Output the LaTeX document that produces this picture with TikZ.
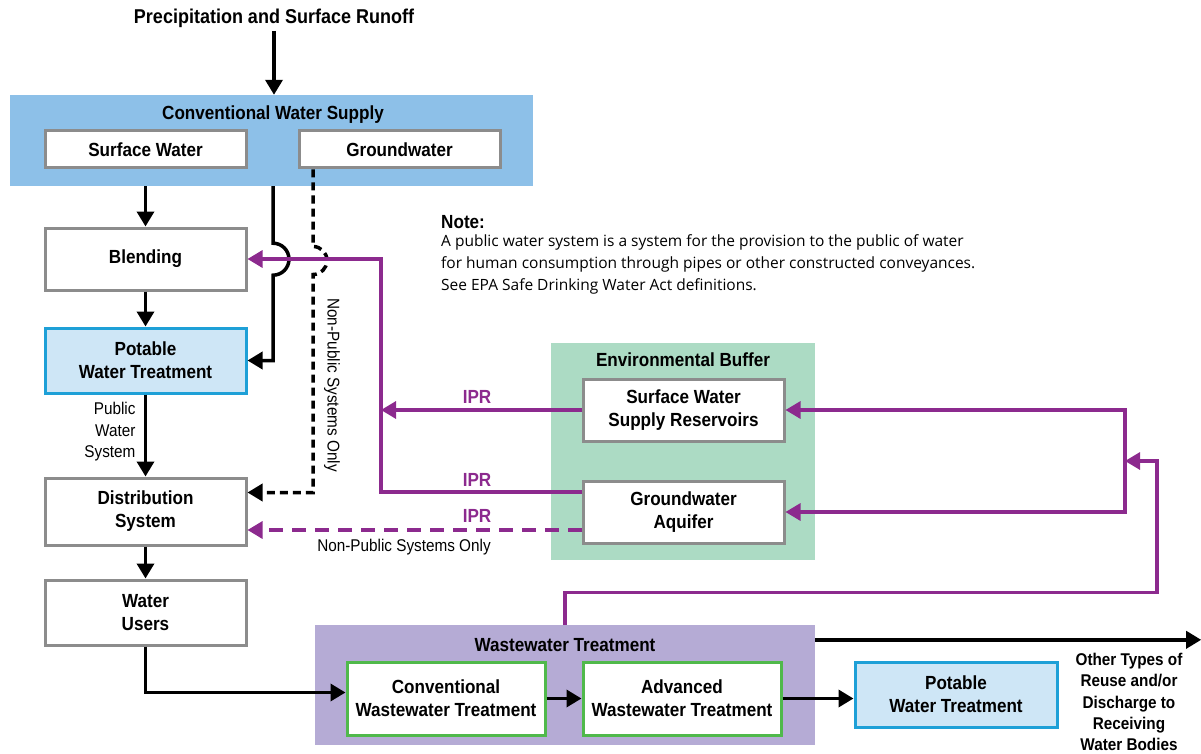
\documentclass[tikz,border=0pt]{standalone}
\usepackage{fontspec}
\setmainfont{Liberation Sans}
\newfontfamily\condfont{Liberation Sans}[FakeStretch=0.9]
\newfontfamily\notefont{Open Sans}
\usetikzlibrary{arrows.meta}
\definecolor{supplyblue}{RGB}{141,192,232}
\definecolor{potfill}{RGB}{206,230,246}
\definecolor{potline}{RGB}{30,160,215}
\definecolor{buffergreen}{RGB}{172,219,196}
\definecolor{wwlilac}{RGB}{181,171,213}
\definecolor{iprpurple}{RGB}{140,42,142}
\definecolor{boxgray}{RGB}{140,140,140}
\definecolor{wwgreen}{RGB}{80,185,75}
\begin{document}
\begin{tikzpicture}[x=1pt, y=-1pt,
	font=\condfont\bfseries\fontsize{19}{23}\selectfont,
	panel/.style={draw=none, inner sep=0pt},
	box/.style={draw=boxgray, line width=3pt, fill=white, minimum width=201pt, align=center, inner sep=2pt},
	potable/.style={box, draw=potline, fill=potfill, minimum height=65pt},
	wbox/.style={box, draw=wwgreen, minimum width=198pt, minimum height=73pt},
	small/.style={font=\condfont\fontsize{17}{21.5}\selectfont},
	arr/.style={line width=3.5pt, -{Triangle[length=15pt,width=17pt]}},
	darr/.style={arr, dash pattern=on 8pt off 5pt},
	parr/.style={line width=3.2pt, draw=iprpurple, -{Triangle[length=15pt,width=17pt]}},
	ipr/.style={text=iprpurple}]
	\useasboundingbox (0,0) rectangle (1201,754);
	
	% supply side
	\node[font=\condfont\bfseries\fontsize{20}{24}\selectfont] (rain) at (274,18) {Precipitation and Surface Runoff};
	\node[panel, fill=supplyblue, minimum width=523pt, minimum height=91pt] (cws) at (271.5,140.5) {};
	\node (cwstitle) at (273,115) {Conventional Water Supply};
	\node[box, minimum height=37pt] (sw) at (145.5,149.5) {Surface Water};
	\node[box, minimum height=37pt] (gw) at (399.5,149.5) {Groundwater};
	\node[box, minimum height=62pt] (blend) at (145.5,259) {Blending};
	\node[potable] (pwt) at (145.5,360.5) {Potable\\Water Treatment};
	\node[box, minimum height=67pt] (dist) at (145.5,511.5) {Distribution\\System};
	\node[box, minimum height=65pt] (users) at (145.5,612.5) {Water\\Users};
	
	% environmental buffer
	\node[panel, fill=buffergreen, minimum width=264pt, minimum height=217pt] (buffer) at (683,451.5) {};
	\node (buftitle) at (683,360) {Environmental Buffer};
	\node[box, minimum height=62pt] (swsr) at (683.5,410) {Surface Water\\Supply Reservoirs};
	\node[box, minimum height=62pt] (gwa) at (683.5,512) {Groundwater\\Aquifer};
	
	% wastewater
	\node[panel, fill=wwlilac, minimum width=500pt, minimum height=120pt] (wwt) at (565,685) {};
	\node (wwttitle) at (565,645) {Wastewater Treatment};
	\node[wbox] (cwt) at (446,698.5) {Conventional\\Wastewater Treatment};
	\node[wbox] (awt) at (682,698.5) {Advanced\\Wastewater Treatment};
	\node[potable, minimum width=202pt] (pwt2) at (956,694.5) {Potable\\Water Treatment};
	
	% labels
	\node[small, align=right, anchor=east] (pws) at (139,432) {Public\\Water\\System};
	\node[small, rotate=-90] (np1) at (332,385) {Non-Public Systems Only};
	\node[small] (np2) at (404,547) {Non-Public Systems Only};
	\node[align=center, font=\condfont\bfseries\fontsize{17}{21.3}\selectfont] (other) at (1129,702) {Other Types of\\Reuse and/or\\Discharge to\\Receiving\\Water Bodies};
	\node[ipr] (ipr1) at (477,397) {IPR};
	\node[ipr] (ipr2) at (477,480) {IPR};
	\node[ipr] (ipr3) at (477,516) {IPR};
	\node[anchor=west, inner sep=0pt] (notehead) at (441,222) {Note:};
	\node[anchor=north west, align=left, inner sep=0pt, font=\notefont\fontsize{15.5}{22}\selectfont] (note) at (441,234)
		{A public water system is a system for the provision to the public of water\\
		 for human consumption through pipes or other constructed conveyances.\\
		 See EPA Safe Drinking Water Act definitions.};
	
	\coordinate (iprbus) at (381,259);
	\coordinate (rbus) at (1125,461);
	
	% black flows
	\draw[arr] (rain) -- (rain.south |- cws.north);
	\draw[arr] (sw.south |- cws.south) -- (blend);
	\draw[arr] (blend) -- (pwt);
	\draw[arr] (pwt) -- (dist);
	\draw[arr] (dist) -- (users);
	\draw[arr] ([xshift=1.5pt]cws.south) -- ++(0,57) arc[start angle=90, end angle=-90, radius=16pt] |- (pwt.east);
	\draw[darr] ([xshift=-86.5pt]gw.south) -- ++(0,77) arc[start angle=90, end angle=-90, radius=14pt] |- ([yshift=19pt]dist.east);
	\draw[arr] (users) |- ([yshift=6pt]cwt.west);
	\draw[arr] (cwt) -- (awt);
	\draw[arr] (awt.east) -- (awt.east -| pwt2.west);
	\draw[arr] ([yshift=-15pt]wwt.north east) -- ++(386,0);
	
	% purple flows
	\draw[parr] ([yshift=20pt]gwa.west) -| (iprbus) -- (blend.east);
	\draw[parr] (swsr.west) -- (swsr.west -| iprbus);
	\draw[parr, dash pattern=on 14pt off 9pt] ([yshift=-18pt]gwa.west) -- ([yshift=-18.5pt]dist.east);
	\draw[parr, {Triangle[length=15pt,width=17pt]}-{Triangle[length=15pt,width=17pt]}] (swsr.east) -| (rbus) |- (gwa.east);
	\draw[parr] (wwt.north) -- ++(0,-32) -| ([xshift=32pt]rbus) -- (rbus);
\end{tikzpicture}
\end{document}
